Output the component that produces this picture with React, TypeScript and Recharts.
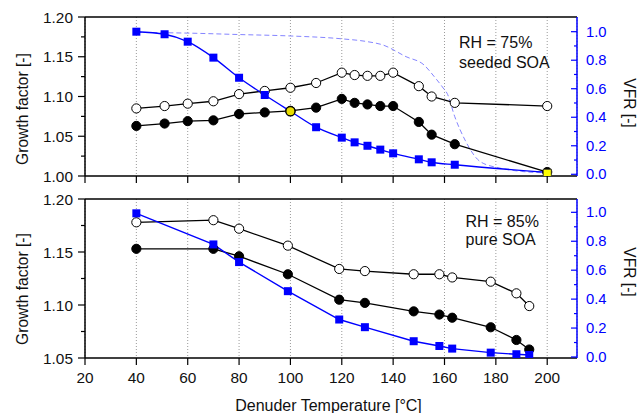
import { LineChart, Line, XAxis, YAxis, CartesianGrid, ReferenceLine } from 'recharts';

// top panel: RH = 75%, seeded SOA
const topTemps = [40, 51, 60, 70, 80, 90, 100, 110, 120, 125, 130, 135, 140, 150, 155, 164, 200];
const topGfOpen = [1.085, 1.088, 1.091, 1.094, 1.103, 1.107, 1.111, 1.117, 1.130, 1.127, 1.126, 1.126, 1.130, 1.113, 1.100, 1.092, 1.088];
const topGfFilled = [1.063, 1.066, 1.069, 1.070, 1.078, 1.080, 1.082, 1.086, 1.097, 1.092, 1.090, 1.088, 1.088, 1.068, 1.052, 1.040, 1.005];
const topVfr = [1.0, 0.982, 0.93, 0.818, 0.677, 0.556, 0.442, 0.33, 0.257, 0.224, 0.2, 0.173, 0.147, 0.105, 0.084, 0.067, 0.014];

// modelled VFR (dashed curve, top panel)
const modelTemps = [40, 60, 80, 100, 120, 130, 136, 145, 152, 156, 159.5, 161, 164, 168, 174, 182, 190, 200];
const modelVfr = [0.995, 0.99, 0.98, 0.97, 0.95, 0.93, 0.907, 0.825, 0.767, 0.685, 0.605, 0.568, 0.404, 0.24, 0.088, 0.042, 0.02, 0.01];

// bottom panel: RH = 85%, pure SOA
const bottomTemps = [40, 70, 80, 99, 119, 129, 148, 158, 163, 178, 188, 193];
const bottomGfOpen = [1.178, 1.180, 1.172, 1.156, 1.134, 1.132, 1.129, 1.129, 1.126, 1.122, 1.111, 1.099];
const bottomGfFilled = [1.153, 1.153, 1.146, 1.129, 1.105, 1.102, 1.094, 1.091, 1.088, 1.079, 1.067, 1.058];
const bottomVfr = [0.993, 0.778, 0.656, 0.455, 0.259, 0.206, 0.109, 0.076, 0.058, 0.030, 0.019, 0.014];

const xTicks = [20, 40, 60, 80, 100, 120, 140, 160, 180, 200];
const topGfTicks = [1.0, 1.025, 1.05, 1.075, 1.1, 1.125, 1.15, 1.175, 1.2];
const bottomGfTicks = [1.05, 1.075, 1.1, 1.125, 1.15, 1.175, 1.2];
const vfrTicks = [0, 0.1, 0.2, 0.3, 0.4, 0.5, 0.6, 0.7, 0.8, 0.9, 1.0];
const highlightCircleT = 100;
const highlightSquareT = 200;

const topData = topTemps.map((T, i) => ({ T, open: topGfOpen[i], filled: topGfFilled[i], vfr: topVfr[i], hl: true }));
const modelData = modelTemps.map((T, i) => ({ T, model: modelVfr[i] }));
const bottomData = bottomTemps.map((T, i) => ({ T, open: bottomGfOpen[i], filled: bottomGfFilled[i], vfr: bottomVfr[i] }));

const FONT = '"Liberation Sans", Arial, sans-serif';
const BLUE = '#0000ff';

const isStep = (v: number, step: number) => Math.abs(v / step - Math.round(v / step)) < 1e-6;

const LeftTick = ({ x, y, payload }: any) => {
  const major = isStep(payload.value, 0.05);
  return (
    <g>
      <line x1={x} y1={y} x2={x - (major ? 7 : 4)} y2={y} stroke="#000" strokeWidth={1.2} />
      {major && (
        <text x={x - 12} y={y} textAnchor="end" dominantBaseline="central" fontSize={15.4} fontFamily={FONT} fill="#111">
          {payload.value.toFixed(2)}
        </text>
      )}
    </g>
  );
};

const RightTick = ({ x, y, payload }: any) => {
  const major = isStep(payload.value, 0.2);
  return (
    <g>
      <line x1={x} y1={y} x2={x - (major ? 6 : 3)} y2={y} stroke={BLUE} strokeWidth={1.2} />
      {major && (
        <text x={x + 9} y={y} textAnchor="start" dominantBaseline="central" fontSize={14.8} fontFamily={FONT} fill={BLUE}>
          {payload.value.toFixed(1)}
        </text>
      )}
    </g>
  );
};

const XTick = ({ x, y, payload, showLabel }: any) => (
  <g>
    <line x1={x} y1={y} x2={x} y2={y + 7} stroke="#000" strokeWidth={1.2} />
    {showLabel && (
      <text x={x} y={y + 19} textAnchor="middle" dominantBaseline="central" fontSize={15.4} fontFamily={FONT} fill="#111">
        {payload.value}
      </text>
    )}
  </g>
);

// blue squares; the crossing point and the last point are marked in yellow
const renderSquare = (props: any) => {
  const { cx, cy, payload, index } = props;
  if (cx == null || cy == null) return <g key={index} />;
  if (payload.hl && payload.T === highlightCircleT) {
    return <circle key={index} cx={cx} cy={cy} r={4.6} fill="#e8dc00" stroke="#000" strokeWidth={1.4} />;
  }
  if (payload.hl && payload.T === highlightSquareT) {
    return <rect key={index} x={cx - 4} y={cy - 3} width={8} height={8} fill="#ffff00" stroke="#333" strokeWidth={0.8} />;
  }
  return <rect key={index} x={cx - 4} y={cy - 4} width={8} height={8} fill={BLUE} />;
};

const openDot = { r: 4.6, fill: '#fff', stroke: '#000', strokeWidth: 1 };
const filledDot = { r: 4.6, fill: '#000', stroke: '#000', strokeWidth: 1 };

const Panel = ({ data, gfDomain, gfTicks, vfrDomain, showXLabels, smoothBlue, model, height, margin, xHeight }: any) => (
  <LineChart width={639} height={height} data={data} margin={margin}>
    <CartesianGrid vertical horizontal={false} stroke="#9a9a9a" strokeDasharray="1 2" />
    <XAxis
      dataKey="T"
      type="number"
      domain={[20, 211.6]}
      ticks={xTicks}
      allowDataOverflow
      height={xHeight}
      interval={0}
      tickSize={0}
      tickMargin={0}
      tickLine={false}
      axisLine={{ stroke: '#000', strokeWidth: 1.5 }}
      tick={(p: any) => <XTick {...p} showLabel={showXLabels} />}
    />
    <YAxis
      yAxisId="left"
      width={85}
      domain={gfDomain}
      ticks={gfTicks}
      allowDataOverflow
      interval={0}
      tickSize={0}
      tickMargin={0}
      tickLine={false}
      axisLine={{ stroke: '#000', strokeWidth: 1.5 }}
      tick={(p: any) => <LeftTick {...p} />}
    />
    <YAxis
      yAxisId="right"
      orientation="right"
      width={62}
      domain={vfrDomain}
      ticks={vfrTicks}
      allowDataOverflow
      interval={0}
      tickSize={0}
      tickMargin={0}
      tickLine={false}
      axisLine={{ stroke: BLUE, strokeWidth: 1.5 }}
      tick={(p: any) => <RightTick {...p} />}
    />
    <ReferenceLine yAxisId="left" y={gfDomain[1]} stroke="#000" strokeWidth={1.5} />
    {model && (
      <Line
        yAxisId="right"
        data={modelData}
        dataKey="model"
        type="monotone"
        stroke="#8585ff"
        strokeWidth={1}
        strokeDasharray="5 3"
        dot={false}
        isAnimationActive={false}
      />
    )}
    <Line yAxisId="left" dataKey="open" type="linear" stroke="#000" strokeWidth={1.3} dot={openDot} isAnimationActive={false} />
    <Line yAxisId="left" dataKey="filled" type="linear" stroke="#000" strokeWidth={1.3} dot={filledDot} isAnimationActive={false} />
    <Line
      yAxisId="right"
      dataKey="vfr"
      type={smoothBlue ? 'monotone' : 'linear'}
      stroke={BLUE}
      strokeWidth={1.4}
      dot={renderSquare}
      isAnimationActive={false}
    />
  </LineChart>
);

export default function App() {
  return (
    <div style={{ position: 'absolute', left: 0, top: 0, width: 639, height: 413, background: '#fff', fontFamily: FONT }}>
      <div style={{ position: 'absolute', left: 0, top: 0 }}>
        <Panel
          data={topData}
          gfDomain={[1.0, 1.2]}
          gfTicks={topGfTicks}
          vfrDomain={[-0.012, 1.103]}
          showXLabels={false}
          smoothBlue
          model
          height={195}
          margin={{ top: 17, right: 0, bottom: 0, left: 0 }}
          xHeight={19}
        />
      </div>
      <div style={{ position: 'absolute', left: 0, top: 185 }}>
        <Panel
          data={bottomData}
          gfDomain={[1.05, 1.2]}
          gfTicks={bottomGfTicks}
          vfrDomain={[-0.007, 1.092]}
          showXLabels
          smoothBlue={false}
          model={false}
          height={228}
          margin={{ top: 14, right: 0, bottom: 0, left: 0 }}
          xHeight={55}
        />
      </div>
      <svg width={639} height={413} style={{ position: 'absolute', left: 0, top: 0, pointerEvents: 'none' }}>
        <g fontFamily={FONT} fill="#111">
          <text x={22} y={109} fontSize={15.6} textAnchor="middle" dominantBaseline="central" transform="rotate(-90 22 109)">
            Growth factor [-]
          </text>
          <text x={22} y={289} fontSize={15.6} textAnchor="middle" dominantBaseline="central" transform="rotate(-90 22 289)">
            Growth factor [-]
          </text>
          <text x={629} y={103} fontSize={15.6} textAnchor="middle" dominantBaseline="central" transform="rotate(90 629 103)">
            VFR [-]
          </text>
          <text x={629} y={272} fontSize={15.6} textAnchor="middle" dominantBaseline="central" transform="rotate(90 629 272)">
            VFR [-]
          </text>
          <text x={459} y={48} fontSize={16}>RH = 75%</text>
          <text x={459} y={68} fontSize={16}>seeded SOA</text>
          <text x={465.5} y={226.7} fontSize={16}>RH = 85%</text>
          <text x={465.5} y={244.5} fontSize={16}>pure SOA</text>
          <text x={328.5} y={405} fontSize={16} textAnchor="middle" dominantBaseline="central">
            Denuder Temperature [°C]
          </text>
        </g>
      </svg>
    </div>
  );
}
